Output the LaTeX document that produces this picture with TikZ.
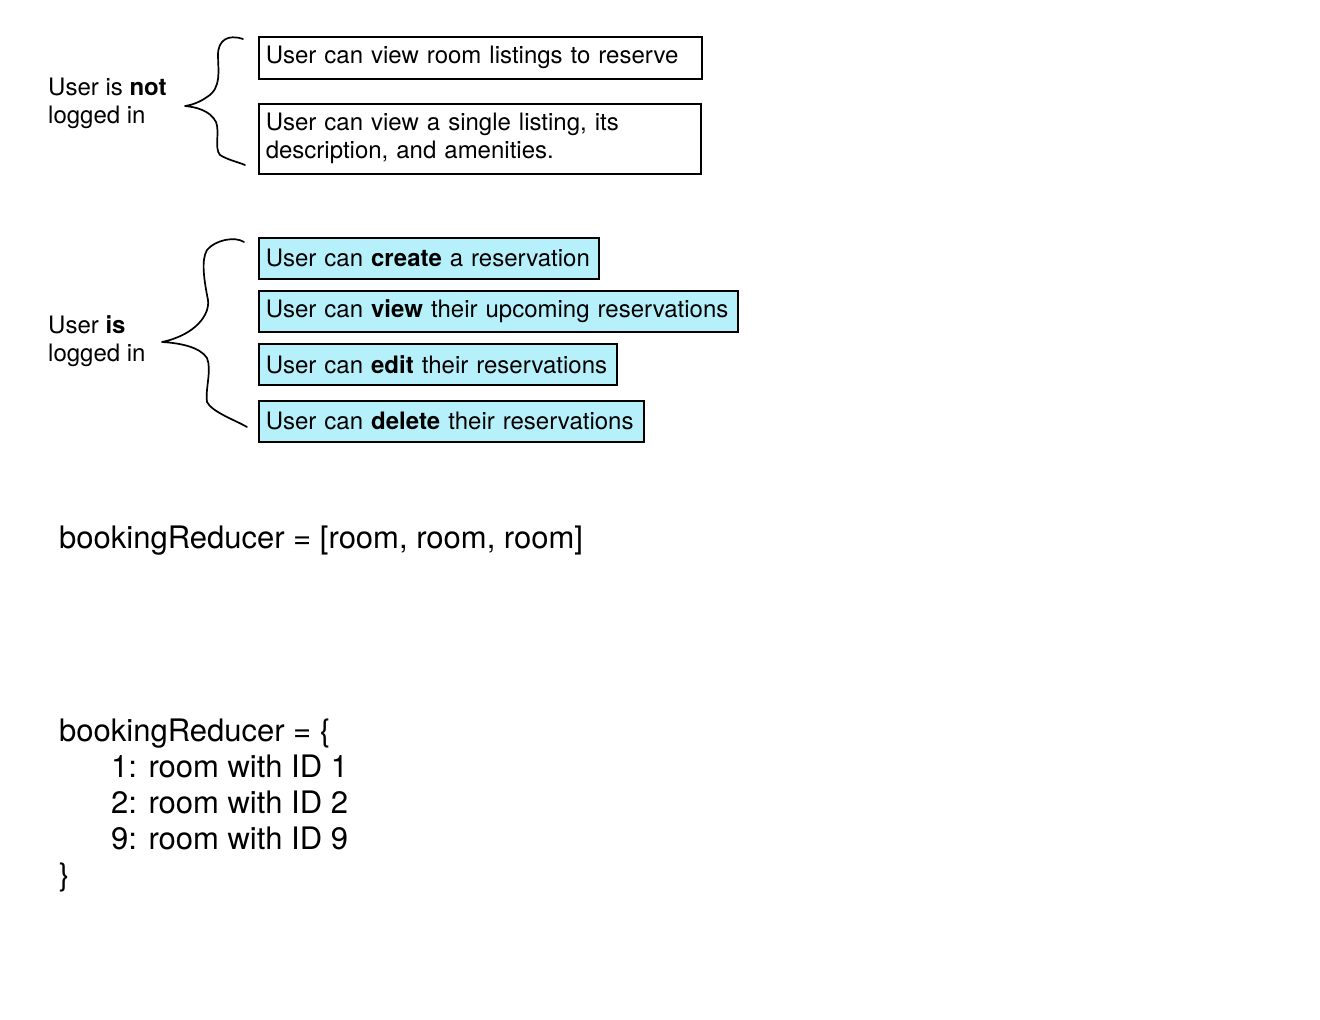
\documentclass[tikz,border=0pt]{standalone}
\usepackage{fontspec}
\setmainfont{TeX Gyre Heros}
\definecolor{resvcyan}{RGB}{182,240,250}
\begin{document}
\begin{tikzpicture}[x=1pt,y=-1pt,
  box/.style={draw=black, line width=1.6pt, anchor=north west, inner xsep=7pt,
              inner ysep=0pt, align=left, font=\fontsize{24}{28}\selectfont},
  plainbox/.style={box, fill=white},
  cyanbox/.style={box, fill=resvcyan},
  lbl/.style={anchor=west, align=left, inner sep=0pt, font=\fontsize{24}{28}\selectfont},
  code/.style={anchor=west, align=left, inner sep=0pt, font=\fontsize{31}{36}\selectfont},
  brace/.style={line width=1.7pt, line cap=round, line join=round}]
  \useasboundingbox[fill=white] (0,0) rectangle (1320,1020);

  % guest permissions
  \node[lbl] (guest) at (48,103) {User is \textbf{not}\\logged in};
  \node[plainbox, text width=429pt, minimum height=42pt] (list) at (258,36)
    {User can view room listings to reserve};
  \node[plainbox, text width=428pt, minimum height=70pt] (single) at (258,103)
    {User can view a single listing, its\\description, and amenities.};

  \draw[brace] (243,39) .. controls (228,34) and (218,40) .. (218,55)
    .. controls (218,70) and (222,88) .. (207,97)
    .. controls (200,102) and (192,105) .. (185,106)
    .. controls (195,107) and (210,110) .. (216,122)
    .. controls (220,132) and (214,148) .. (220,155)
    .. controls (228,160) and (238,162) .. (245,165);

  % member permissions
  \node[lbl] (member) at (48,341) {User \textbf{is}\\logged in};
  \node[cyanbox, text width=326pt, minimum height=41pt] (create) at (258,237)
    {User can \textbf{create} a reservation};
  \node[cyanbox, text width=465pt, minimum height=41pt] (view) at (258,290)
    {User can \textbf{view} their upcoming reservations};
  \node[cyanbox, text width=344pt, minimum height=41pt] (edit) at (258,343)
    {User can \textbf{edit} their reservations};
  \node[cyanbox, text width=371pt, minimum height=41pt] (delete) at (258,400)
    {User can \textbf{delete} their reservations};

  \draw[brace] (244,242) .. controls (235,236) and (215,240) .. (207,250)
    .. controls (201,260) and (204,280) .. (208,300)
    .. controls (210,315) and (195,335) .. (162,342)
    .. controls (180,343) and (200,347) .. (207,358)
    .. controls (212,370) and (205,390) .. (207,402)
    .. controls (212,412) and (235,420) .. (247,427);

  % reducer state shapes
  \node[code] (arr) at (59,541) {bookingReducer = [room, room, room]};
  \node[code] (obj) at (59,805) {bookingReducer = \{\\
    \hspace*{52pt}1: room with ID 1\\
    \hspace*{52pt}2: room with ID 2\\
    \hspace*{52pt}9: room with ID 9\\
    \}};
\end{tikzpicture}
\end{document}
